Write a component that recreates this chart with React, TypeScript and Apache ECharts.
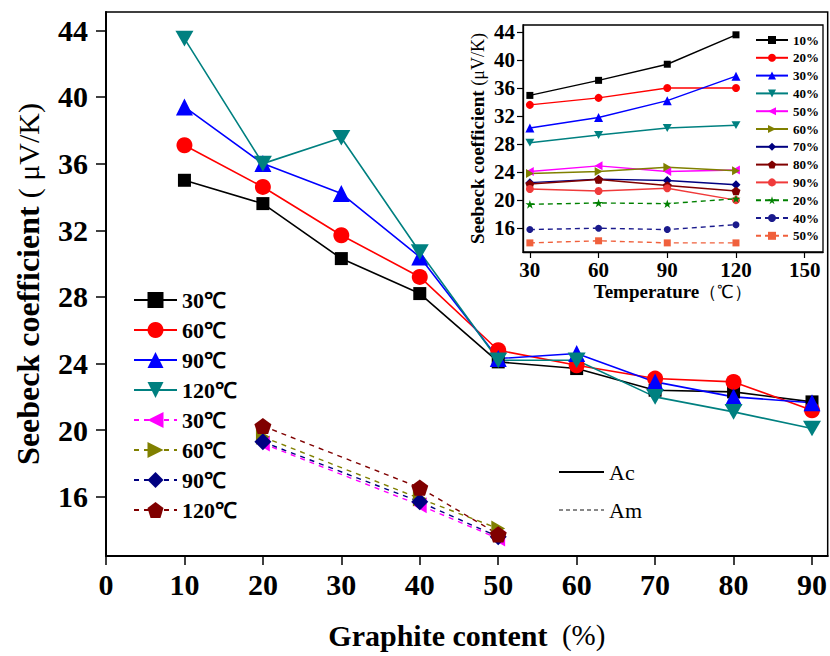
import React, { useEffect, useRef } from 'react';
import * as echarts from 'echarts';

const FONT = '"Liberation Serif", "Times New Roman", Times, serif';

// ---- Main chart data (x = graphite content %, y = Seebeck coefficient µV/K)
const graphiteAc = [10, 20, 30, 40, 50, 60, 70, 80, 90];
const ac30 = [35.0, 33.6, 30.3, 28.2, 24.1, 23.7, 22.4, 22.3, 21.7];
const ac60 = [37.1, 34.6, 31.7, 29.2, 24.8, 23.9, 23.1, 22.9, 21.2];
const ac90 = [39.4, 36.0, 34.2, 30.4, 24.3, 24.6, 22.9, 22.0, 21.65];
const ac120 = [43.5, 36.0, 37.55, 30.7, 24.2, 24.2, 22.0, 21.1, 20.1];

const graphiteAm = [20, 40, 50];
const am30 = [19.2, 15.5, 13.5];
const am60 = [19.6, 15.9, 14.1];
const am90 = [19.3, 15.7, 13.6];
const am120 = [20.25, 16.55, 13.75];

const mainXTicks = [0, 10, 20, 30, 40, 50, 60, 70, 80, 90];
const mainYTicks = [16, 20, 24, 28, 32, 36, 40, 44];

// ---- Inset data (x = temperature ℃)
const temps = [30, 60, 90, 120];
const in10 = [34.95, 37.1, 39.4, 43.6];
const in20 = [33.6, 34.6, 36.0, 36.0];
const in30 = [30.3, 31.8, 34.2, 37.7];
const in40 = [28.2, 29.3, 30.3, 30.7];
const in50 = [24.1, 24.9, 24.1, 24.3];
const in60 = [23.8, 24.1, 24.7, 24.2];
const in70 = [22.5, 23.0, 22.8, 22.2];
const in80 = [22.3, 22.95, 22.1, 21.3];
const in90 = [21.6, 21.3, 21.7, 20.0];
const inAm20 = [19.4, 19.6, 19.5, 20.2];
const inAm40 = [15.8, 16.0, 15.8, 16.5];
const inAm50 = [13.9, 14.2, 13.9, 13.9];

const insetXTicks = [30, 60, 90, 120, 150];
const insetYTicks = [16, 20, 24, 28, 32, 36, 40, 44];

const SYM = {
  down: 'path://M0,0 L10,0 L5,8.66 Z',
  left: 'path://M0,5 L8.66,0 L8.66,10 Z',
  right: 'path://M0,0 L8.66,5 L0,10 Z',
  pentagon: 'path://M5,0 L10,3.63 L8.09,9.51 L1.91,9.51 L0,3.63 Z',
  star: 'path://M5,0 L6.18,3.62 L10,3.62 L6.91,5.86 L8.09,9.51 L5,7.27 L1.91,9.51 L3.09,5.86 L0,3.62 L3.82,3.62 Z',
};

const zip = (xs: number[], ys: number[]) => xs.map((x, i) => [x, ys[i]]);

function mainLine(name: string, xs: number[], ys: number[], color: string, symbol: string, size: number, dashed: boolean) {
  return {
    name,
    type: 'line',
    xAxisIndex: 0,
    yAxisIndex: 0,
    data: zip(xs, ys),
    symbol,
    symbolSize: size,
    symbolKeepAspect: true,
    itemStyle: { color },
    lineStyle: { color, width: dashed ? 1.4 : 1.6, type: dashed ? [5, 5] : 'solid' },
  };
}

function insetLine(name: string, ys: number[], color: string, symbol: string, size: number, dashed: boolean) {
  return {
    name,
    type: 'line',
    xAxisIndex: 1,
    yAxisIndex: 1,
    data: zip(temps, ys),
    symbol,
    symbolSize: size,
    symbolKeepAspect: true,
    itemStyle: { color },
    lineStyle: { color, width: 1.4, type: dashed ? [5, 4] : 'solid' },
  };
}

export default function App() {
  const ref = useRef<HTMLDivElement>(null);
  useEffect(() => {
    const chart = echarts.init(ref.current!, null, { renderer: 'svg' });
    const mainSeries = [
      mainLine('Ac 30℃', graphiteAc, ac30, '#000000', 'rect', 13, false),
      mainLine('Ac 60℃', graphiteAc, ac60, '#ff0000', 'circle', 16, false),
      mainLine('Ac 90℃', graphiteAc, ac90, '#0000ff', 'triangle', 17, false),
      mainLine('Ac 120℃', graphiteAc, ac120, '#008080', SYM.down, 18, false),
      mainLine('Am 30℃', graphiteAm, am30, '#ff00ff', SYM.left, 16, true),
      mainLine('Am 60℃', graphiteAm, am60, '#808000', SYM.right, 16, true),
      mainLine('Am 90℃', graphiteAm, am90, '#000080', 'diamond', 17, true),
      mainLine('Am 120℃', graphiteAm, am120, '#800000', SYM.pentagon, 17, true),
    ];
    const insetSeries = [
      insetLine('Ac 10%', in10, '#000000', 'rect', 7, false),
      insetLine('Ac 20%', in20, '#ff0000', 'circle', 8, false),
      insetLine('Ac 30%', in30, '#0000ff', 'triangle', 9, false),
      insetLine('Ac 40%', in40, '#008080', SYM.down, 9, false),
      insetLine('Ac 50%', in50, '#ff00ff', SYM.left, 9, false),
      insetLine('Ac 60%', in60, '#808000', SYM.right, 9, false),
      insetLine('Ac 70%', in70, '#000080', 'diamond', 9, false),
      insetLine('Ac 80%', in80, '#800000', SYM.pentagon, 9, false),
      insetLine('Ac 90%', in90, '#f03a3a', 'circle', 8, false),
      insetLine('Am 20%', inAm20, '#008000', SYM.star, 9, true),
      insetLine('Am 40%', inAm40, '#1a1a8c', 'circle', 7, true),
      insetLine('Am 50%', inAm50, '#f0603c', 'rect', 7, true),
    ];
    const styleSeries = [
      { name: 'Ac', type: 'line', xAxisIndex: 0, yAxisIndex: 0, data: [], itemStyle: { color: '#000' }, lineStyle: { color: '#000', width: 1.6 } },
      { name: 'Am', type: 'line', xAxisIndex: 0, yAxisIndex: 0, data: [], itemStyle: { color: '#888' }, lineStyle: { color: '#888', width: 1.4, type: [4, 3] } },
    ];
    const strip = (n: string) => n.split(' ')[1];

    chart.setOption({
      animation: false,
      backgroundColor: '#ffffff',
      grid: [
        { left: 106, top: 12, right: 2, bottom: 100, show: true, borderColor: '#000', borderWidth: 1.5, backgroundColor: 'transparent' },
        { left: 523, top: 25, width: 300, height: 227, show: true, borderColor: '#000', borderWidth: 1.3, backgroundColor: '#ffffff' },
      ],
      xAxis: [
        {
          type: 'value', gridIndex: 0, min: 0, max: 92,
          name: '{b|Graphite content}{n|  (%)}', nameLocation: 'middle', nameGap: 64,
          nameTextStyle: { rich: { b: { fontFamily: FONT, fontWeight: 'bold', fontSize: 30, color: '#000' }, n: { fontFamily: FONT, fontWeight: 'normal', fontSize: 29, color: '#000' } } },
          splitLine: { show: false },
          axisLine: { onZero: false, lineStyle: { color: '#000', width: 2 } },
          axisTick: { inside: false, length: 9, customValues: mainXTicks, lineStyle: { color: '#000', width: 1.5 } },
          axisLabel: { customValues: mainXTicks, margin: 13, fontFamily: FONT, fontWeight: 'bold', fontSize: 30, color: '#000' },
        },
        {
          type: 'value', gridIndex: 1, min: 27, max: 158,
          name: '{b|Temperature}{n|（℃）}', nameLocation: 'middle', nameGap: 30,
          nameTextStyle: { rich: { b: { fontFamily: FONT, fontWeight: 'bold', fontSize: 19, color: '#000' }, n: { fontFamily: FONT, fontWeight: 'normal', fontSize: 18, color: '#000' } } },
          splitLine: { show: false },
          axisLine: { onZero: false, lineStyle: { color: '#000', width: 1.3 } },
          axisTick: { length: 6, customValues: insetXTicks, lineStyle: { color: '#000', width: 1.2 } },
          axisLabel: { customValues: insetXTicks, margin: 7, fontFamily: FONT, fontWeight: 'bold', fontSize: 21, color: '#000' },
        },
      ],
      yAxis: [
        {
          type: 'value', gridIndex: 0, min: 12.45, max: 45.1,
          name: '{b|Seebeck coefficient }{n|( μV/K)}', nameLocation: 'middle', nameGap: 62,
          nameTextStyle: { rich: { b: { fontFamily: FONT, fontWeight: 'bold', fontSize: 32, color: '#000' }, n: { fontFamily: FONT, fontWeight: 'normal', fontSize: 30, color: '#000' } } },
          splitLine: { show: false },
          axisLine: { onZero: false, lineStyle: { color: '#000', width: 2 } },
          axisTick: { length: 10, customValues: mainYTicks, lineStyle: { color: '#000', width: 1.5 } },
          axisLabel: { customValues: mainYTicks, margin: 18, fontFamily: FONT, fontWeight: 'bold', fontSize: 30, color: '#000' },
        },
        {
          type: 'value', gridIndex: 1, min: 12.6, max: 45,
          name: '{b|Seebeck coefficient }{n|(μV/K)}', nameLocation: 'middle', nameGap: 36,
          nameTextStyle: { rich: { b: { fontFamily: FONT, fontWeight: 'bold', fontSize: 19, color: '#000' }, n: { fontFamily: FONT, fontWeight: 'normal', fontSize: 18, color: '#000' } } },
          splitLine: { show: false },
          axisLine: { onZero: false, lineStyle: { color: '#000', width: 1.3 } },
          axisTick: { length: 6, customValues: insetYTicks, lineStyle: { color: '#000', width: 1.2 } },
          axisLabel: { customValues: insetYTicks, margin: 8, fontFamily: FONT, fontWeight: 'bold', fontSize: 21, color: '#000' },
        },
      ],
      legend: [
        {
          data: mainSeries.map((s) => s.name),
          orient: 'vertical', left: 128, top: 284,
          itemWidth: 43, itemHeight: 20, itemGap: 8,
          selectedMode: false,
          formatter: strip,
          textStyle: { fontFamily: FONT, fontWeight: 'bold', fontSize: 22, color: '#000', lineHeight: 20 },
        },
        {
          data: insetSeries.map((s) => s.name),
          orient: 'vertical', left: 750, top: 28,
          itemWidth: 32, itemHeight: 10, itemGap: 3.8,
          selectedMode: false,
          formatter: strip,
          textStyle: { fontFamily: FONT, fontWeight: 'bold', fontSize: 13, color: '#000', lineHeight: 14 },
        },
        {
          data: ['Ac', 'Am'],
          orient: 'vertical', left: 553, top: 456,
          itemWidth: 45, itemHeight: 10, itemGap: 16,
          selectedMode: false,
          itemStyle: { opacity: 0 },
          textStyle: { fontFamily: FONT, fontWeight: 'normal', fontSize: 22, color: '#000', lineHeight: 22 },
        },
      ],
      series: [...mainSeries, ...insetSeries, ...styleSeries],
    });
    return () => chart.dispose();
  }, []);
  return <div ref={ref} style={{ position: 'absolute', left: 0, top: 0, width: 830, height: 656, background: '#fff' }} />;
}
